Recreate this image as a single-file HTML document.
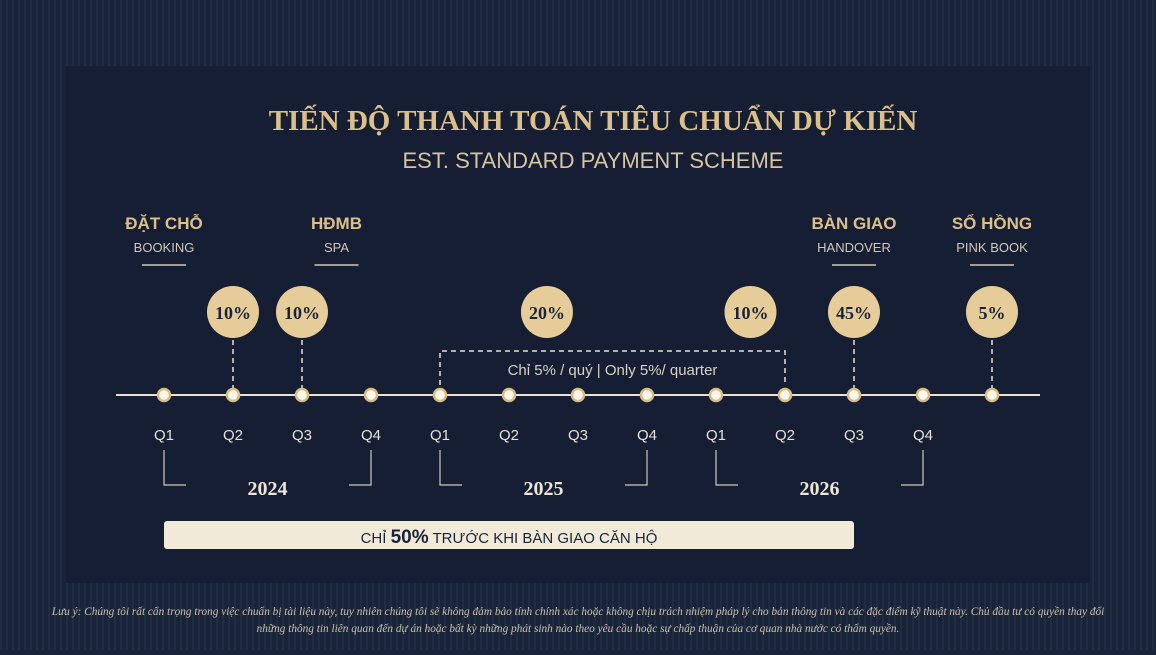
<!DOCTYPE html>
<html><head><meta charset="utf-8"><style>
body{margin:0;width:1156px;height:650px;overflow:hidden;background:#1a2438;font-family:"Liberation Sans",sans-serif}
</style></head><body>
<svg width="1156" height="650" viewBox="0 0 1156 650">
<defs><pattern id="pt" width="6" height="6" patternUnits="userSpaceOnUse"><rect width="6" height="6" fill="#1a2438"/><line x1="1" y1="0" x2="1" y2="6" stroke="#233049" stroke-width="1.2"/></pattern></defs>
<rect width="1156" height="650" fill="url(#pt)"/>
<rect x="66" y="66" width="1024" height="517" fill="#161e33"/>
<text x="593" y="130" text-anchor="middle" font-family="Liberation Serif,serif" font-size="29" font-weight="bold" fill="#dcc08a">TIẾN ĐỘ THANH TOÁN TIÊU CHUẨN DỰ KIẾN</text>
<text x="593" y="168" text-anchor="middle" font-size="22" fill="#d6c4a2">EST. STANDARD PAYMENT SCHEME</text>
<g id="g"></g>
<rect x="164" y="521" width="690" height="28" rx="3" fill="#f1ead9"/>
<text x="509" y="543" text-anchor="middle" font-size="15" fill="#1a2438">CHỈ <tspan font-size="19" font-weight="bold">50%</tspan> TRƯỚC KHI BÀN GIAO CĂN HỘ</text>
<text x="578" y="615" text-anchor="middle" font-family="Liberation Serif,serif" font-style="italic" font-size="11.3" fill="#c9c2b0">Lưu ý: Chúng tôi rất cẩn trọng trong việc chuẩn bị tài liệu này, tuy nhiên chúng tôi sẽ không đảm bảo tính chính xác hoặc không chịu trách nhiệm pháp lý cho bản thông tin và các đặc điểm kỹ thuật này. Chủ đầu tư có quyền thay đổi</text>
<text x="578" y="632" text-anchor="middle" font-family="Liberation Serif,serif" font-style="italic" font-size="11.3" fill="#c9c2b0">những thông tin liên quan đến dự án hoặc bất kỳ những phát sinh nào theo yêu cầu hoặc sự chấp thuận của cơ quan nhà nước có thẩm quyền.</text>
</svg>
<script>
const quarters=["Q1","Q2","Q3","Q4","Q1","Q2","Q3","Q4","Q1","Q2","Q3","Q4"];
const years=["2024","2025","2026"];
const payPos=[1,2,5.55,8.5,10,12];
const payVals=["10%","10%","20%","10%","45%","5%"];
const payDashed=[true,true,false,false,true,true];
const milestonePos=[0,2.5,10,12];
const milestoneVi=["ĐẶT CHỖ","HĐMB","BÀN GIAO","SỔ HỒNG"];
const milestoneEn=["BOOKING","SPA","HANDOVER","PINK BOOK"];
const x=i=>164+i*69, AY=395, NS="http://www.w3.org/2000/svg";
const g=document.getElementById('g');
function el(t,a,txt){const e=document.createElementNS(NS,t);for(const k in a)e.setAttribute(k,a[k]);if(txt!=null)e.textContent=txt;g.appendChild(e);return e;}
let e=el('line',{x1:116,y1:AY,x2:1040,y2:AY,stroke:'#e8e2d4','stroke-width':2});


e=el('path',{d:`M${x(4)} ${AY-10} V351 H${x(9)} V${AY-10}`,fill:'none',stroke:'#e8e2d4','stroke-width':1.5,'stroke-dasharray':'5 4'});


e=el('text',{x:(x(4)+x(9))/2,y:375,'text-anchor':'middle','font-size':15,fill:'#d8d2c4'},'Chỉ 5% / quý | Only 5%/ quarter');


const dots=quarters.map((q,i)=>i).concat([12]);
dots.forEach(i=>{e=el('circle',{cx:x(i),cy:AY,r:6,fill:'#fff8ea',stroke:'#d9bd86','stroke-width':2.5});

});
quarters.forEach((q,i)=>{e=el('text',{x:x(i),y:440,'text-anchor':'middle','font-size':15,fill:'#e8e2d4'},q);

});
years.forEach((y,k)=>{const a=x(k*4),b=x(k*4+3);
e=el('path',{d:`M${a} 450 V485 H${a+22} M${b} 450 V485 H${b-22}`,fill:'none',stroke:'#cfc9bb','stroke-width':1.2});


e=el('text',{x:(a+b)/2,y:495,'text-anchor':'middle','font-family':'Liberation Serif,serif','font-size':20,'font-weight':'bold',fill:'#ece6d8'},y);

});
payVals.forEach((v,k)=>{const cx=x(payPos[k]);
if(payDashed[k]){e=el('line',{x1:cx,y1:340,x2:cx,y2:AY-7,stroke:'#e8e2d4','stroke-width':1.5,'stroke-dasharray':'5 4'});

}
e=el('circle',{cx:cx,cy:312,r:26,fill:'#e6cc98'});


e=el('text',{x:cx,y:319,'text-anchor':'middle','font-family':'Liberation Serif,serif','font-size':18,'font-weight':'bold',fill:'#1a2438'},v);

});
milestoneVi.forEach((m,k)=>{const cx=x(milestonePos[k]);
e=el('text',{x:cx,y:229,'text-anchor':'middle','font-size':17,'font-weight':'bold',fill:'#dcc08a'},m);


e=el('text',{x:cx,y:252,'text-anchor':'middle','font-size':13,fill:'#cfc9bb'},milestoneEn[k]);


e=el('line',{x1:cx-22,y1:265,x2:cx+22,y2:265,stroke:'#cfc9bb','stroke-width':1.5});

});
</script>
</body></html>
